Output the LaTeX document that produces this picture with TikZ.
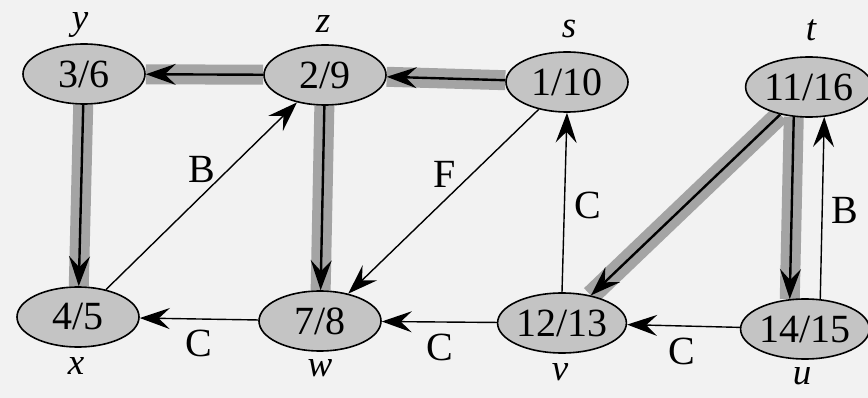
\documentclass[tikz,border=0pt]{standalone}
\usepackage{fontspec}
\setmainfont{Liberation Serif}
\usetikzlibrary{arrows.meta,shapes.geometric}
\pgfdeclarelayer{bglayer}
\pgfdeclarelayer{bandlayer}
\pgfsetlayers{bglayer,bandlayer,main}
\definecolor{bgc}{HTML}{F2F2F2}
\definecolor{nodefill}{HTML}{C4C4C4}
\definecolor{bandc}{HTML}{A4A4A4}
\tikzset{
  vert/.style={draw=black, line width=1.6pt, fill=nodefill, ellipse, minimum width=122pt, minimum height=60pt, inner sep=0pt, font=\fontsize{40}{42}\selectfont},
  vlabel/.style={font=\fontsize{37}{39}\selectfont\itshape, inner sep=0pt},
  elabel/.style={font=\fontsize{40}{42}\selectfont, inner sep=0pt},
  tip/.style={-{Stealth[length=30pt,width=21pt,inset=11pt]}},
  thinedge/.style={tip, line width=1.4pt, black},
  treeedge/.style={tip, line width=2.4pt, black},
  band/.style={line width=20pt, bandc},
}
\begin{document}
\begin{tikzpicture}[x=1pt,y=-1pt]
\useasboundingbox (0,0) rectangle (868,398);
\begin{pgfonlayer}{bglayer}
\fill[bgc] (0,0) rectangle (868,398);
\end{pgfonlayer}
% vertices
\node[vert] (y) at (84,74) {3/6};
\node[vert] (z) at (325,75) {2/9};
\node[vert] (s) at (567,82) {1/10};
\node[vert] (t) at (809,87) {11/16};
\node[vert] (x) at (78,317) {4/5};
\node[vert] (w) at (320,321) {7/8};
\node[vert] (v) at (562,323) {12/13};
\node[vert] (u) at (805,329) {14/15};
% vertex names
\node[vlabel] (ly) at (80,25) {y};
\node[vlabel] (lz) at (323,24) {z};
\node[vlabel] (ls) at (569,29) {s};
\node[vlabel] (lt) at (811,30) {t};
\node[vlabel] (lx) at (76,366) {x};
\node[vlabel] (lw) at (320,368) {w};
\node[vlabel] (lv) at (560,372) {v};
\node[vlabel] (lu) at (802,376) {u};
% tree edge bands
\begin{pgfonlayer}{bandlayer}
\draw[band] (z) -- (y);
\draw[band] (s) -- (z);
\draw[band] (y) -- (x);
\draw[band] (z) -- (w);
\draw[band] (t) -- (v);
\draw[band] (t.-117) -- (u.117);
\end{pgfonlayer}
% tree edges
\draw[treeedge] (z) -- (y);
\draw[treeedge] (s) -- (z);
\draw[treeedge] (y) -- (x);
\draw[treeedge] (z) -- (w);
\draw[treeedge] (t) -- (v);
\draw[treeedge] (t.-117) -- (u.117);
% other edges
\draw[thinedge] (x) -- (z);
\draw[thinedge] (s) -- (w);
\draw[thinedge] (w) -- (x);
\draw[thinedge] (v) -- (w);
\draw[thinedge] (v.north) -- (s.south);
\draw[thinedge] (u) -- (v);
\draw[thinedge] (u.63) -- (t.-63);
% edge labels
\node[elabel] (eB1) at (202,169) {B};
\node[elabel] (eF) at (445,174) {F};
\node[elabel] (eC1) at (588,205) {C};
\node[elabel] (eB2) at (845,210) {B};
\node[elabel] (eC2) at (199,343) {C};
\node[elabel] (eC3) at (440,347) {C};
\node[elabel] (eC4) at (682,351) {C};
\end{tikzpicture}
\end{document}
